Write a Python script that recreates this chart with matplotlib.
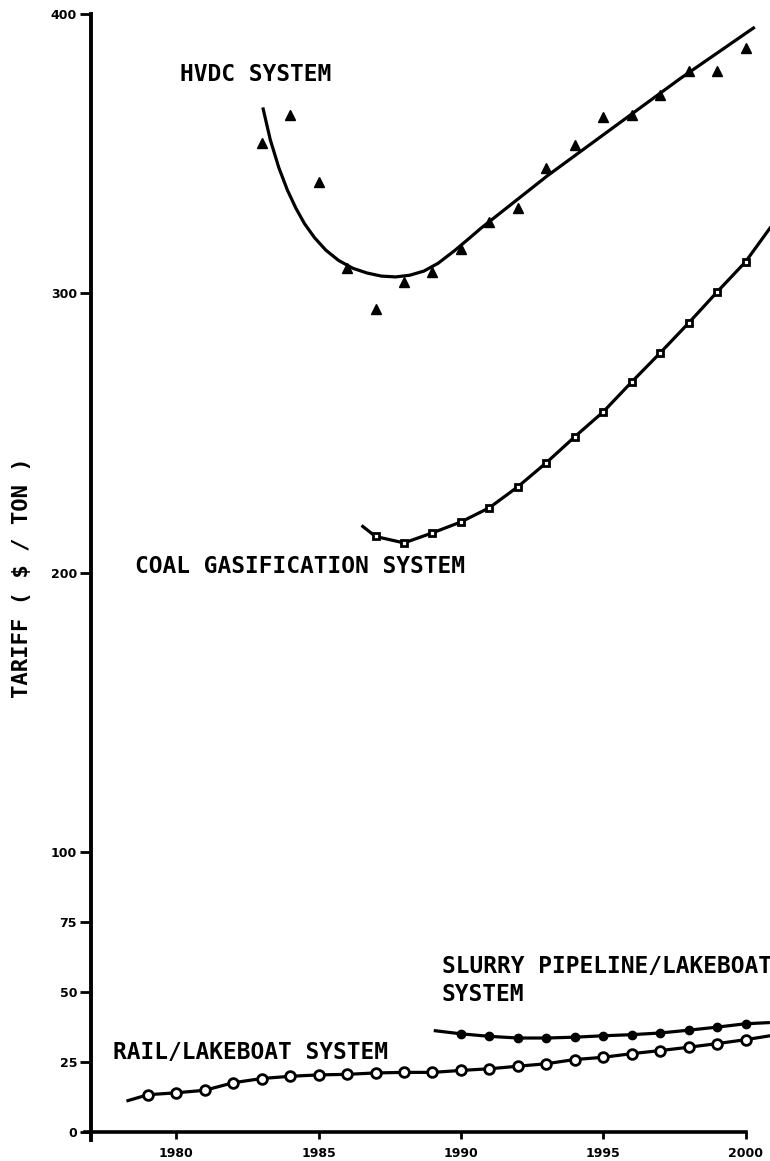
import matplotlib.pyplot as plt

# --------------------------
# Data
# --------------------------
hvdc_years = [1983, 1984, 1985, 1986, 1987, 1988, 1989, 1990, 1991, 1992,
              1993, 1994, 1995, 1996, 1997, 1998, 1999, 2000]
hvdc_vals = [354, 364, 340, 309, 294.5, 304, 307.5, 316, 325.5, 330.5,
             345, 353, 363, 364, 371, 379.5, 379.5, 388]

# fitted curve drawn through the HVDC points
hvdc_fit_years = [1983.05, 1983.3, 1983.6, 1983.9, 1984.2, 1984.5, 1984.85,
                  1985.25, 1985.7, 1986.2, 1986.7, 1987.2, 1987.7, 1988.2,
                  1988.7, 1989.2, 1989.8, 1990.3, 1990.7, 1993.05, 1995.37,
                  1997.72, 2000.28]
hvdc_fit_vals = [366, 355, 345, 337, 330.5, 325, 320,
                 315.5, 311.8, 309, 307.3, 306.2, 305.9, 306.5,
                 308, 310.8, 315.5, 319.8, 323.3, 342.2, 359.5,
                 377, 395]

coal_years = [1987, 1988, 1989, 1990, 1991, 1992, 1993, 1994, 1995, 1996,
              1997, 1998, 1999, 2000]
coal_vals = [213, 210.7, 214.3, 218.2, 223.3, 230.8, 239.4, 248.7, 257.6,
             268.3, 278.7, 289.4, 300.5, 311.3]
coal_line_years = [1986.55] + coal_years + [2000.86]
coal_line_vals = [216.6] + coal_vals + [323.4]

rail_years = list(range(1979, 2001))
rail_vals = [13.2, 13.9, 14.8, 17.5, 19.0, 19.8, 20.3, 20.5, 21.0, 21.2, 21.2,
             21.9, 22.5, 23.4, 24.3, 25.8, 26.6, 27.9, 29.0, 30.2, 31.5, 32.9]
rail_line_years = [1978.3] + rail_years + [2000.86]
rail_line_vals = [11.1] + rail_vals + [34.3]

slurry_years = list(range(1990, 2001))
slurry_vals = [35.0, 34.1, 33.5, 33.5, 33.8, 34.3, 34.7, 35.3, 36.3, 37.4, 38.6]
slurry_line_years = [1989.1] + slurry_years + [2000.8]
slurry_line_vals = [36.1] + slurry_vals + [39.0]

x_ticks = [1980, 1985, 1990, 1995, 2000]
y_ticks = [0, 25, 50, 75, 100, 200, 300, 400]

label_font = "DejaVu Sans Mono"

# --------------------------
# Figure
# --------------------------
fig = plt.figure(figsize=(7.7, 11.61), dpi=100)
ax = fig.add_axes([91 / 770, 21 / 1161, 679 / 770, 1126 / 1161])

lw = 2.3
ax.plot(hvdc_fit_years, hvdc_fit_vals, color="black", linewidth=lw,
        solid_joinstyle="round")
ax.plot(hvdc_years, hvdc_vals, linestyle="none", marker="^", markersize=7.5,
        color="black")

ax.plot(coal_line_years, coal_line_vals, color="black", linewidth=lw)
ax.plot(coal_years, coal_vals, linestyle="none", marker="s", markersize=5,
        markerfacecolor="white", markeredgecolor="black", markeredgewidth=2)

ax.plot(rail_line_years, rail_line_vals, color="black", linewidth=lw)
ax.plot(rail_years, rail_vals, linestyle="none", marker="o", markersize=7,
        markerfacecolor="white", markeredgecolor="black", markeredgewidth=2)

ax.plot(slurry_line_years, slurry_line_vals, color="black", linewidth=lw)
ax.plot(slurry_years, slurry_vals, linestyle="none", marker="o", markersize=6,
        color="black")

ax.set_xlim(1977.0, 2000.86)
ax.set_ylim(-3, 400)

# axes styling
for s in ["top", "right"]:
    ax.spines[s].set_visible(False)
ax.spines["left"].set_linewidth(2.8)
ax.spines["left"].set_bounds(-3, 400)
ax.spines["bottom"].set_position(("data", 0))
ax.spines["bottom"].set_linewidth(2.6)
ax.spines["bottom"].set_bounds(1976.8, 2000)

ax.set_xticks(x_ticks)
ax.set_xticklabels([str(t) for t in x_ticks], fontsize=9, fontweight="bold")
ax.set_yticks(y_ticks)
ax.set_yticklabels([str(t) for t in y_ticks], fontsize=9, fontweight="bold")
ax.tick_params(axis="x", direction="out", length=5, width=2, pad=6)
ax.tick_params(axis="y", direction="out", length=8, width=2, pad=2)

# curve labels
txt = dict(family=label_font, fontweight="bold", fontsize=16.5, va="center")
ax.text(1977.0 + (180 - 91) / 28.475, 400 - (75 - 14) / 2.795, "HVDC SYSTEM", **txt)
ax.text(1977.0 + (135 - 91) / 28.475, 400 - (567 - 14) / 2.795,
        "COAL GASIFICATION SYSTEM", **txt)
ax.text(1977.0 + (442 - 91) / 28.475, 400 - (981 - 14) / 2.795,
        "SLURRY PIPELINE/LAKEBOAT\nSYSTEM", linespacing=1.25, **txt)
ax.text(1977.0 + (113 - 91) / 28.475, 400 - (1053 - 14) / 2.795,
        "RAIL/LAKEBOAT SYSTEM", **txt)

fig.text(22 / 770, 1 - 578 / 1161, "TARIFF ( $ / TON )", rotation=90,
         ha="center", va="center", family=label_font, fontweight="bold",
         fontsize=16)

plt.savefig("out.png", dpi=100)
plt.close()
